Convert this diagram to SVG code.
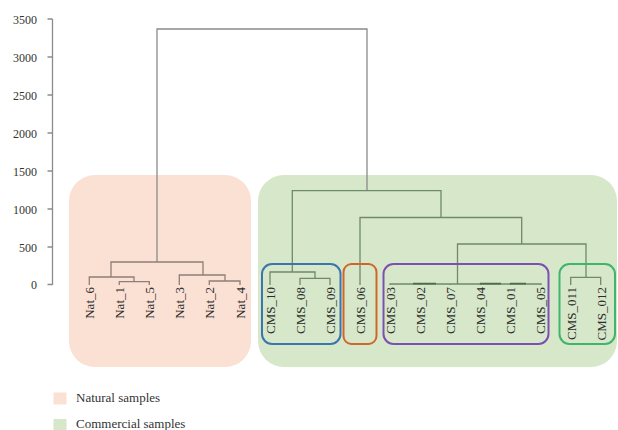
<svg xmlns="http://www.w3.org/2000/svg" width="618" height="430" viewBox="0 0 618 430">
<style>
.ax{stroke:#8c8c8c;stroke-width:1.3;fill:none}
.tk{font-family:"Liberation Serif",serif;font-size:12px;fill:#333;text-anchor:end}
.top{stroke:#8a8a8a;stroke-width:1.3;fill:none}
.nat{stroke:#8d7f78;stroke-width:1.3;fill:none}
.cms{stroke:#6f8a69;stroke-width:1.3;fill:none}
.lbl{font-family:"Liberation Serif",serif;font-size:13px;fill:#2b2b2b;text-anchor:end}
.grp{fill:none;stroke-width:2}
.leg{font-family:"Liberation Serif",serif;font-size:13px;fill:#333}
</style>
<g id="background-boxes">
<rect id="natural-box" x="69" y="175" width="182" height="192" rx="26" fill="#fbe1d4"/>
<rect id="commercial-box" x="258" y="175" width="359" height="192" rx="26" fill="#d6e8c9"/>
</g>
<g id="axis">
<path class="ax" d="M52.5 19V285M47.5 19H52.5M47.5 57H52.5M47.5 95H52.5M47.5 133H52.5M47.5 171H52.5M47.5 209H52.5M47.5 247H52.5M47.5 284.5H52.5"/>
<text class="tk" x="37" y="23.5">3500</text>
<text class="tk" x="37" y="61.5">3000</text>
<text class="tk" x="37" y="99.5">2500</text>
<text class="tk" x="37" y="137.5">2000</text>
<text class="tk" x="37" y="175.5">1500</text>
<text class="tk" x="37" y="213.5">1000</text>
<text class="tk" x="37" y="251.5">500</text>
<text class="tk" x="37" y="289">0</text>
</g>
<g id="connectors">
<path class="top" d="M157 262V29H367V191"/>
<path class="nat" d="M111 277V262H203V275M89.3 285V277H134V281.7M119.3 285V281.7H149.3V285M179.3 285V275H225V281M209.3 285V281H240V285"/>
<path class="cms" d="M292.3 272V190.7H441V217.5M270 285V272H315V278.3M300 285V278.3H330V285M360 285V217.5H521.7V244M457.5 284V244H586V277.3M570.7 285V277.3H600.7V285"/>
<path class="cms" d="M390 285V284H541V285M420 285V284M450 285V284M480 285V284M510 285V284"/>
<path stroke="#4e6e48" stroke-width="1.8" fill="none" d="M413 283.6H436M480 283.6H501M510 283.6H526"/>
</g>
<g id="group-boxes">
<rect id="box-blue" class="grp" x="262" y="264" width="78.5" height="80" rx="10" stroke="#3b75ad"/>
<rect id="box-orange" class="grp" x="343.5" y="264" width="33" height="80" rx="8" stroke="#d0662b"/>
<rect id="box-purple" class="grp" x="383.5" y="264" width="165" height="80" rx="10" stroke="#7c50b3"/>
<rect id="box-green" class="grp" x="559.5" y="264" width="55.5" height="80" rx="10" stroke="#3db56c"/>
</g>
<g id="leaf-labels">
<g id="Nat_6"><text class="lbl" transform="translate(94.3 287) rotate(-90)">Nat_6</text></g>
<g id="Nat_1"><text class="lbl" transform="translate(124.3 287) rotate(-90)">Nat_1</text></g>
<g id="Nat_5"><text class="lbl" transform="translate(154.3 287) rotate(-90)">Nat_5</text></g>
<g id="Nat_3"><text class="lbl" transform="translate(184.3 287) rotate(-90)">Nat_3</text></g>
<g id="Nat_2"><text class="lbl" transform="translate(214.3 287) rotate(-90)">Nat_2</text></g>
<g id="Nat_4"><text class="lbl" transform="translate(245 287) rotate(-90)">Nat_4</text></g>
<g id="CMS_10"><text class="lbl" transform="translate(275 287) rotate(-90)">CMS_10</text></g>
<g id="CMS_08"><text class="lbl" transform="translate(305 287) rotate(-90)">CMS_08</text></g>
<g id="CMS_09"><text class="lbl" transform="translate(335 287) rotate(-90)">CMS_09</text></g>
<g id="CMS_06"><text class="lbl" transform="translate(365 287) rotate(-90)">CMS_06</text></g>
<g id="CMS_03"><text class="lbl" transform="translate(395 287) rotate(-90)">CMS_03</text></g>
<g id="CMS_02"><text class="lbl" transform="translate(425 287) rotate(-90)">CMS_02</text></g>
<g id="CMS_07"><text class="lbl" transform="translate(455 287) rotate(-90)">CMS_07</text></g>
<g id="CMS_04"><text class="lbl" transform="translate(485 287) rotate(-90)">CMS_04</text></g>
<g id="CMS_01"><text class="lbl" transform="translate(515 287) rotate(-90)">CMS_01</text></g>
<g id="CMS_05"><text class="lbl" transform="translate(545 287) rotate(-90)">CMS_05</text></g>
<g id="CMS_011"><text class="lbl" transform="translate(575.7 287) rotate(-90)">CMS_011</text></g>
<g id="CMS_012"><text class="lbl" transform="translate(605.7 287) rotate(-90)">CMS_012</text></g>
</g>
<g id="legend">
<rect x="53.5" y="392.5" width="13" height="12" fill="#fbe1d4"/>
<text class="leg" x="76" y="402">Natural samples</text>
<rect x="53.5" y="419" width="13" height="11" fill="#d6e8c9"/>
<text class="leg" x="76" y="428">Commercial samples</text>
</g>
</svg>
